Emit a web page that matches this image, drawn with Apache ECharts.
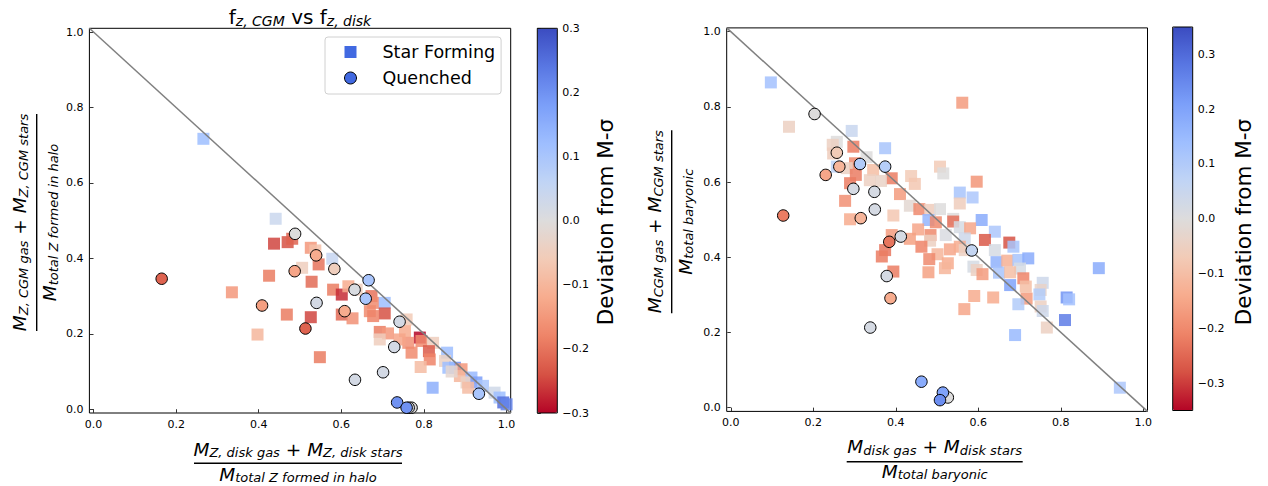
<!DOCTYPE html>
<html><head><meta charset="utf-8">
<script src="https://cdn.jsdelivr.net/npm/echarts@6/dist/echarts.min.js"></script>
<style>html,body{margin:0;padding:0;background:#fff}#c{width:1268px;height:486px}</style>
</head><body><div id="c"></div>
<script>
// ---------------- data ----------------
const axisTicks = [0, 0.2, 0.4, 0.6, 0.8, 1.0];
const axisRange = [-0.01, 1.01];
const oneToOneLine = [[-0.01, 1.01], [1.01, -0.01]];
const leftCbarTicks = [-0.3, -0.2, -0.1, 0, 0.1, 0.2, 0.3];
const leftCbarRange = [-0.3, 0.3];
const rightCbarTicks = [-0.3, -0.2, -0.1, 0, 0.1, 0.2, 0.3];
const rightCbarRange = [-0.35, 0.35];
const seriesNames = ['Star Forming', 'Quenched'];

// [x, y, deviation from M-sigma]
const metalStarForming = [
  [0.266,0.717,0.12],[0.441,0.505,0.04],[0.437,0.439,-0.25],[0.470,0.443,-0.24],[0.481,0.452,-0.22],
  [0.526,0.428,-0.15],[0.537,0.421,-0.08],[0.545,0.384,-0.2],[0.578,0.399,0.05],[0.505,0.375,-0.05],
  [0.425,0.354,-0.19],[0.335,0.310,-0.15],[0.528,0.338,-0.21],[0.580,0.317,-0.19],[0.601,0.304,-0.27],
  [0.617,0.326,-0.12],[0.637,0.317,-0.05],[0.673,0.300,-0.2],[0.677,0.282,-0.17],[0.705,0.282,0.12],
  [0.705,0.254,-0.24],[0.468,0.251,-0.19],[0.526,0.244,-0.25],[0.601,0.251,-0.21],[0.627,0.241,-0.16],
  [0.669,0.260,-0.17],[0.677,0.247,-0.18],[0.397,0.198,-0.1],[0.693,0.205,-0.19],[0.713,0.201,-0.15],
  [0.758,0.238,-0.06],[0.754,0.207,-0.12],[0.790,0.190,-0.3],[0.762,0.176,-0.16],[0.794,0.181,-0.17],
  [0.822,0.176,-0.05],[0.812,0.154,-0.23],[0.770,0.150,-0.17],[0.814,0.132,-0.18],[0.792,0.112,-0.09],
  [0.548,0.138,-0.19],[0.856,0.150,0.12],[0.851,0.128,-0.04],[0.875,0.110,0.2],[0.859,0.110,0.12],
  [0.891,0.106,-0.15],[0.887,0.088,-0.1],[0.915,0.084,0.13],[0.903,0.071,-0.04],[0.821,0.057,0.15],
  [0.927,0.071,0.18],[0.907,0.057,-0.09],[0.943,0.062,0.1],[0.971,0.044,0.03],[0.983,0.031,0.12],
  [0.992,0.018,0.25],[1.0,0.013,0.22],[0.693,0.185,-0.05],[0.741,0.185,-0.13],[0.867,0.100,-0.02]
];
const metalQuenched = [
  [0.488,0.465,0.0],[0.165,0.346,-0.22],[0.539,0.408,-0.12],[0.487,0.366,-0.13],[0.583,0.372,-0.05],
  [0.666,0.342,0.1],[0.632,0.317,0.01],[0.659,0.293,0.1],[0.540,0.282,0.02],[0.408,0.275,-0.14],
  [0.608,0.260,-0.12],[0.513,0.214,-0.22],[0.741,0.232,0.02],[0.728,0.165,0.02],[0.701,0.098,0.02],
  [0.633,0.078,0.02],[0.933,0.041,0.1],[0.735,0.018,0.2],[0.770,0.004,0.0],[0.763,0.004,0.01],
  [0.758,0.004,0.2]
];
const massStarForming = [
  [0.097,0.865,0.13],[0.561,0.811,-0.17],[0.141,0.747,-0.05],[0.293,0.736,0.05],[0.257,0.707,0.0],
  [0.247,0.699,-0.05],[0.297,0.694,-0.22],[0.374,0.690,0.12],[0.248,0.676,-0.06],[0.329,0.666,0.0],
  [0.301,0.650,-0.2],[0.257,0.641,0.08],[0.281,0.637,-0.05],[0.345,0.632,-0.1],[0.303,0.619,-0.22],
  [0.507,0.641,-0.07],[0.515,0.623,0.0],[0.390,0.610,-0.22],[0.337,0.605,-0.05],[0.364,0.603,-0.04],
  [0.437,0.616,-0.07],[0.446,0.595,-0.08],[0.596,0.601,-0.18],[0.289,0.597,-0.22],[0.410,0.568,-0.17],
  [0.555,0.572,0.12],[0.586,0.559,0.11],[0.277,0.550,-0.19],[0.434,0.537,-0.02],[0.555,0.543,-0.06],
  [0.457,0.528,-0.2],[0.483,0.526,-0.06],[0.507,0.528,0.0],[0.394,0.511,-0.08],[0.289,0.501,-0.14],
  [0.479,0.499,0.16],[0.497,0.493,-0.2],[0.539,0.502,0.0],[0.539,0.495,-0.24],[0.608,0.499,0.18],
  [0.555,0.480,0.02],[0.580,0.477,-0.15],[0.454,0.474,-0.15],[0.484,0.459,-0.2],[0.521,0.459,0.01],
  [0.640,0.468,0.11],[0.390,0.459,-0.17],[0.434,0.449,-0.16],[0.483,0.444,-0.05],[0.567,0.450,0.04],
  [0.616,0.446,-0.27],[0.675,0.439,-0.28],[0.685,0.428,0.12],[0.640,0.419,0.02],[0.462,0.428,-0.21],
  [0.374,0.419,-0.23],[0.531,0.421,-0.15],[0.555,0.428,-0.14],[0.567,0.419,-0.05],[0.366,0.402,-0.22],
  [0.501,0.408,-0.12],[0.481,0.395,-0.2],[0.526,0.384,-0.14],[0.519,0.371,-0.12],[0.644,0.387,0.17],
  [0.670,0.391,-0.13],[0.697,0.393,0.12],[0.721,0.397,0.18],[0.588,0.375,0.02],[0.596,0.366,-0.05],
  [0.701,0.370,0.02],[0.650,0.359,0.12],[0.677,0.360,-0.1],[0.394,0.362,-0.22],[0.479,0.360,-0.16],
  [0.610,0.355,-0.17],[0.709,0.344,-0.21],[0.756,0.332,0.04],[0.677,0.326,0.2],[0.715,0.322,-0.1],
  [0.751,0.313,-0.04],[0.748,0.301,0.1],[0.717,0.290,-0.17],[0.590,0.297,-0.14],[0.636,0.293,-0.14],
  [0.814,0.293,0.23],[0.820,0.288,0.13],[0.892,0.371,0.18],[0.697,0.275,0.1],[0.751,0.269,-0.05],
  [0.756,0.257,0.04],[0.566,0.262,-0.15],[0.810,0.233,0.27],[0.766,0.213,-0.05],[0.689,0.193,0.15],
  [0.943,0.053,0.11]
];
const massQuenched = [
  [0.203,0.781,0.0],[0.257,0.678,-0.07],[0.263,0.641,-0.12],[0.313,0.648,0.1],[0.374,0.641,0.09],
  [0.230,0.619,-0.15],[0.297,0.582,0.02],[0.348,0.574,0.02],[0.127,0.511,-0.22],[0.315,0.504,-0.12],
  [0.349,0.527,0.02],[0.412,0.455,0.02],[0.384,0.441,-0.23],[0.584,0.418,0.06],[0.378,0.350,0.02],
  [0.387,0.291,-0.14],[0.338,0.213,0.02],[0.462,0.069,0.18],[0.526,0.027,0.0],[0.514,0.040,0.2],
  [0.507,0.020,0.24]
];

// ---------------- styling ----------------
const FONT = 'DejaVu Sans';
const coolwarm = ['#b40426','#d65244','#ee8468','#f7ac8e','#f2cbb7','#dddcdc','#c0d4f5','#9ebeff','#7b9ff9','#5977e3','#3b4cc0'];
const fmt = v => { const r = Math.round(v * 10) / 10; return (r < 0 ? '\u2212' : '') + Math.abs(r).toFixed(1); };

const G = {
  L:  {left: 89.4, top: 28.3, width: 421.3, height: 384.7},
  R:  {left: 726.7, top: 27.9, width: 420.8, height: 383.5},
  CL: {left: 537.3, top: 28.3, width: 20, height: 384.7},
  CR: {left: 1172.7, top: 27.0, width: 20, height: 383.5}
};

function mainAxis(gi) {
  return {type:'value', gridIndex: gi, min: axisRange[0], max: axisRange[1],
    axisLine:{show:false}, splitLine:{show:false},
    axisTick:{customValues: axisTicks, length:3.5, lineStyle:{color:'#000', width:0.8}},
    axisLabel:{customValues: axisTicks, formatter: fmt, color:'#000', fontFamily: FONT, fontSize: 11, margin: 6}};
}
function cbarY(gi, range, ticks) {
  return {type:'value', gridIndex: gi, position:'right', min: range[0], max: range[1],
    axisLine:{show:false}, splitLine:{show:false},
    axisTick:{customValues: ticks, length:3.5, lineStyle:{color:'#000', width:0.8}},
    axisLabel:{customValues: ticks, formatter: fmt, color:'#000', fontFamily: FONT, fontSize: 11, margin: 5}};
}

const richMath = {
  M: {fontFamily: FONT, fontStyle:'italic', fontWeight:'normal', fontSize: 18.5, lineHeight: 20, fill:'#000', color:'#000'},
  s: {fontFamily: FONT, fontStyle:'italic', fontWeight:'normal', fontSize: 13, lineHeight: 10, verticalAlign:'bottom', fill:'#000', color:'#000'},
  p: {fontFamily: FONT, fontWeight:'normal', fontSize: 18.5, lineHeight: 20, fill:'#000', color:'#000'}
};
function fraction(cx, cy, rot, num, den, lineLen, numOff, denOff) {
  return {type:'group', x: cx, y: cy, rotation: rot, silent: true, children: [
    {type:'text', x: 0, y: -numOff, style:{text: num, rich: richMath, align:'center', verticalAlign:'middle'}},
    {type:'line', shape:{x1: -lineLen/2, y1: 0, x2: lineLen/2, y2: 0}, style:{stroke:'#000', lineWidth: 1.4}},
    {type:'text', x: 0, y: denOff, style:{text: den, rich: richMath, align:'center', verticalAlign:'middle'}}
  ]};
}
function cbarLabel(cx, cy) {
  return {type:'text', x: cx, y: cy, rotation: Math.PI/2, silent: true,
    style:{text:'Deviation from M-\u03c3', font: '21.5px "DejaVu Sans"', fill:'#000', align:'center', verticalAlign:'middle'}};
}

function sfSeries(name, xi, data) {
  return {type:'scatter', name, xAxisIndex: xi, yAxisIndex: xi, data, symbol:'rect', symbolSize: 12, z: 2,
    itemStyle:{color:'#4169e1', opacity: 0.85}, emphasis:{disabled:true}};
}
function qSeries(name, xi, data) {
  return {type:'scatter', name, xAxisIndex: xi, yAxisIndex: xi, data, symbol:'circle', symbolSize: 11.5, z: 4,
    itemStyle:{color:'#4169e1', borderColor:'#000', borderWidth: 1, opacity: 1}, emphasis:{disabled:true}};
}
function diagSeries(xi) {
  return {type:'line', xAxisIndex: xi, yAxisIndex: xi, data: oneToOneLine, showSymbol:false, symbol:'none', z: 3, silent:true,
    lineStyle:{color:'#808080', width: 1.5}};
}

const option = {
  animation: false,
  backgroundColor: '#fff',
  title: {
    text: '{f|f}{s|z, CGM}{f| vs f}{s|z, disk}',
    left: 300, top: 6, textAlign: 'center', padding: 0,
    textStyle: {fontWeight:'normal', rich: {
      f: {fontFamily: FONT, fontWeight:'normal', fontSize: 20, lineHeight: 22, color:'#000'},
      s: {fontFamily: FONT, fontWeight:'normal', fontStyle:'italic', fontSize: 14, lineHeight: 10, verticalAlign:'bottom', color:'#000'}
    }}
  },
  legend: {
    left: 325, top: 37, orient: 'vertical', selectedMode: false,
    backgroundColor:'#fff', borderColor:'#d0d0d0', borderWidth: 1, borderRadius: 3,
    padding: [6, 6, 7, 19], itemWidth: 12, itemHeight: 12, itemGap: 8,
    textStyle: {fontFamily: FONT, fontSize: 17.5, color:'#000', lineHeight: 18, padding: [0, 0, 0, 21]},
    data: [
      {name: seriesNames[0], icon: 'rect', itemStyle: {color:'#4169e1', borderWidth: 0, opacity: 1}},
      {name: seriesNames[1], icon: 'circle', itemStyle: {color:'#4169e1', borderColor:'#000', borderWidth: 1, opacity: 1}}
    ]
  },
  grid: [
    Object.assign({show:true, borderColor:'#000', borderWidth:1, backgroundColor:'transparent'}, G.L),
    Object.assign({show:true, borderColor:'#000', borderWidth:1, backgroundColor:'transparent'}, G.R),
    Object.assign({show:true, borderColor:'#000', borderWidth:1, backgroundColor:'transparent', z: 6}, G.CL),
    Object.assign({show:true, borderColor:'#000', borderWidth:1, backgroundColor:'transparent', z: 6}, G.CR)
  ],
  xAxis: [mainAxis(0), mainAxis(1),
    {type:'value', gridIndex: 2, show:false, min:0, max:1},
    {type:'value', gridIndex: 3, show:false, min:0, max:1}],
  yAxis: [mainAxis(0), mainAxis(1), cbarY(2, leftCbarRange, leftCbarTicks), cbarY(3, rightCbarRange, rightCbarTicks)],
  visualMap: [
    {type:'continuous', min: leftCbarRange[0], max: leftCbarRange[1], dimension: 2, seriesIndex: [0, 1],
     inRange: {color: coolwarm}, calculable: false, hoverLink: false, orient: 'vertical',
     left: G.CL.left, top: G.CL.top, itemWidth: G.CL.width, itemHeight: G.CL.height, padding: 0, text: null, z: 4},
    {type:'continuous', min: rightCbarRange[0], max: rightCbarRange[1], dimension: 2, seriesIndex: [2, 3],
     inRange: {color: coolwarm}, calculable: false, hoverLink: false, orient: 'vertical',
     left: G.CR.left, top: G.CR.top, itemWidth: G.CR.width, itemHeight: G.CR.height, padding: 0, text: null, z: 4}
  ],
  series: [
    sfSeries(seriesNames[0], 0, metalStarForming),
    qSeries(seriesNames[1], 0, metalQuenched),
    sfSeries(seriesNames[0], 1, massStarForming),
    qSeries(seriesNames[1], 1, massQuenched),
    diagSeries(0),
    diagSeries(1)
  ],
  graphic: [
    fraction(298, 463.3, 0, '{M|M}{s|Z, disk gas}{p| + }{M|M}{s|Z, disk stars}', '{M|M}{s|total Z formed in halo}', 208, 14.3, 11),
    fraction(36.7, 222.5, Math.PI/2, '{M|M}{s|Z, CGM gas}{p| + }{M|M}{s|Z, CGM stars}', '{M|M}{s|total Z formed in halo}', 217, 17, 13),
    fraction(934.7, 461.7, 0, '{M|M}{s|disk gas}{p| + }{M|M}{s|disk stars}', '{M|M}{s|total baryonic}', 176, 15, 9.5),
    fraction(671.7, 221.7, Math.PI/2, '{M|M}{s|CGM gas}{p| + }{M|M}{s|CGM stars}', '{M|M}{s|total baryonic}', 183, 17, 13.5),
    cbarLabel(605, 222),
    cbarLabel(1243.5, 222)
  ]
};

const chart = echarts.init(document.getElementById('c'), null, {renderer: 'svg', width: 1268, height: 486});
chart.setOption(option);
</script>
</body></html>
